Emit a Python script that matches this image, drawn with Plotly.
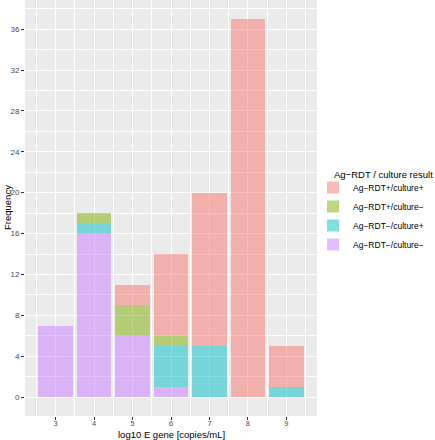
import plotly.graph_objects as go

x_vals = [3, 4, 5, 6, 7, 8, 9]
neg_neg = [7, 16, 6, 1, 0, 0, 0]     # Ag-RDT−/culture−
neg_pos = [0, 1, 0, 4, 5, 0, 1]      # Ag-RDT−/culture+
pos_neg = [0, 1, 3, 1, 0, 0, 0]      # Ag-RDT+/culture−
pos_pos = [0, 0, 2, 8, 15, 37, 4]    # Ag-RDT+/culture+
y_ticks = [0, 4, 8, 12, 16, 20, 24, 28, 32, 36]

series = [
    ("Ag\u2212RDT\u2212/culture\u2212", neg_neg, "rgba(199,124,255,0.5)"),
    ("Ag\u2212RDT\u2212/culture+", neg_pos, "rgba(0,191,196,0.5)"),
    ("Ag\u2212RDT+/culture\u2212", pos_neg, "rgba(124,174,0,0.5)"),
    ("Ag\u2212RDT+/culture+", pos_pos, "rgba(248,118,109,0.5)"),
]

fig = go.Figure()
for name, vals, col in series:
    fig.add_trace(go.Bar(
        x=x_vals, y=vals, name=name, width=0.9,
        marker=dict(color=col, line=dict(width=0)),
    ))

# panel occupies pixels x 25..317, y 0..416
fig.update_layout(
    width=435, height=440,
    barmode="stack",
    paper_bgcolor="white",
    plot_bgcolor="#EBEBEB",
    margin=dict(l=25, r=118, t=0, b=24, autoexpand=False),
    font=dict(family="Liberation Sans, Arial, sans-serif", size=9, color="black"),
    legend=dict(
        traceorder="reversed",
        font=dict(size=8.5),
        xref="container", yref="container",
        x=313 / 435, xanchor="left", y=1 - 173 / 440, yanchor="top",
        bgcolor="rgba(0,0,0,0)",
        itemwidth=30,
    ),
    showlegend=True,
    annotations=[
        dict(text="Ag\u2212RDT / culture result", xref="paper", yref="paper",
             x=(332 - 25) / 292, y=(416 - 175) / 416, xanchor="left", yanchor="middle",
             showarrow=False, font=dict(size=9.5, color="black")),
        dict(text="log10 E gene [copies/mL]", xref="paper", yref="paper",
             x=0.5, y=(416 - 434.5) / 416, xanchor="center", yanchor="middle",
             showarrow=False, font=dict(size=9.5, color="black")),
        dict(text="Frequency", xref="paper", yref="paper", textangle=-90,
             x=(7 - 25) / 292, y=0.5, xanchor="center", yanchor="middle",
             showarrow=False, font=dict(size=9.5, color="black")),
    ],
)

fig.update_xaxes(
    range=[2.205, 9.795], automargin=False,
    tickvals=x_vals, ticktext=[str(v) for v in x_vals],
    showgrid=True, gridcolor="white", gridwidth=1.1,
    minor=dict(tickvals=[2.5, 3.5, 4.5, 5.5, 6.5, 7.5, 8.5, 9.5], showgrid=True,
               gridcolor="white", gridwidth=0.5, ticks=""),
    ticks="outside", ticklen=3, tickcolor="#333333", tickwidth=1,
    tickfont=dict(size=7.5, color="#4D4D4D"), ticklabelstandoff=-3,
    zeroline=False, showline=False,
)
fig.update_yaxes(
    range=[-1.85, 38.85], automargin=False,
    tickvals=y_ticks,
    showgrid=True, gridcolor="white", gridwidth=1.1,
    minor=dict(tickvals=[2, 6, 10, 14, 18, 22, 26, 30, 34, 38], showgrid=True,
               gridcolor="white", gridwidth=0.5, ticks=""),
    ticks="outside", ticklen=3, tickcolor="#333333", tickwidth=1,
    tickfont=dict(size=8, color="#4D4D4D"),
    zeroline=False, showline=False,
)

fig.write_html("out.html", config={"displayModeBar": False},
               post_script="document.body.style.margin='0';document.body.style.overflow='hidden';")
